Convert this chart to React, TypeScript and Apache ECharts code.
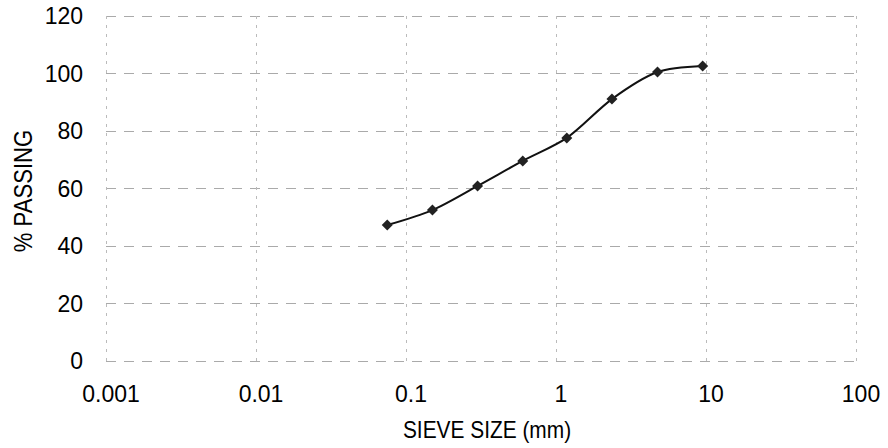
import React, { useEffect, useRef } from "react";
import * as echarts from "echarts";

const sieveSizes = [0.075, 0.15, 0.3, 0.6, 1.18, 2.36, 4.75, 9.5];
const percentPassing = [47.3, 52.5, 60.9, 69.6, 77.6, 91.1, 100.5, 102.6];
const xTitle = "SIEVE SIZE (mm)";
const yTitle = "% PASSING";

const FONT = "Liberation Sans, Arial, sans-serif";

export default function App() {
  const ref = useRef<HTMLDivElement>(null);
  useEffect(() => {
    if (!ref.current) return;
    const chart = echarts.init(ref.current, undefined, { renderer: "svg" });
    chart.setOption({
      animation: false,
      backgroundColor: "#fff",
      grid: { left: 106, right: 32, top: 16, bottom: 87 },
      xAxis: {
        type: "log",
        logBase: 10,
        min: 0.001,
        max: 100,
        axisLine: { show: false },
        axisTick: { show: false },
        axisLabel: {
          margin: 21,
          fontSize: 23,
          color: "#000",
          fontFamily: FONT,
          padding: [0, 0, 0, 10],
          formatter: (v: number) => String(parseFloat(v.toPrecision(3))),
        },
        splitLine: {
          show: true,
          lineStyle: { color: "#bbb", type: [3, 6], width: 1 },
        },
      },
      yAxis: {
        type: "value",
        min: 0,
        max: 120,
        interval: 20,
        axisLine: { show: false },
        axisTick: { show: false },
        axisLabel: {
          margin: 23,
          fontSize: 23,
          color: "#000",
          fontFamily: FONT,
        },
        splitLine: {
          show: true,
          lineStyle: { color: "#aaa", type: [10, 8], width: 1 },
        },
      },
      graphic: [
        {
          type: "text",
          x: 487,
          y: 430,
          scaleX: 0.87,
          style: {
            text: xTitle,
            fontSize: 24,
            fontFamily: FONT,
            fill: "#000",
            align: "center",
            verticalAlign: "middle",
          },
        },
        {
          type: "text",
          x: 23,
          y: 191,
          rotation: Math.PI / 2,
          scaleX: 0.85,
          style: {
            text: yTitle,
            fontSize: 26,
            fontFamily: FONT,
            fill: "#000",
            align: "center",
            verticalAlign: "middle",
          },
        },
      ],
      series: [
        {
          type: "line",
          data: sieveSizes.map((s, i) => [s, percentPassing[i]]),
          smooth: 0.3,
          symbol: "diamond",
          symbolSize: 11,
          itemStyle: { color: "#222" },
          lineStyle: { color: "#111", width: 2 },
        },
      ],
    });
    return () => chart.dispose();
  }, []);
  return <div ref={ref} style={{ width: 888, height: 448, position: "absolute", left: 0, top: 0 }} />;
}
